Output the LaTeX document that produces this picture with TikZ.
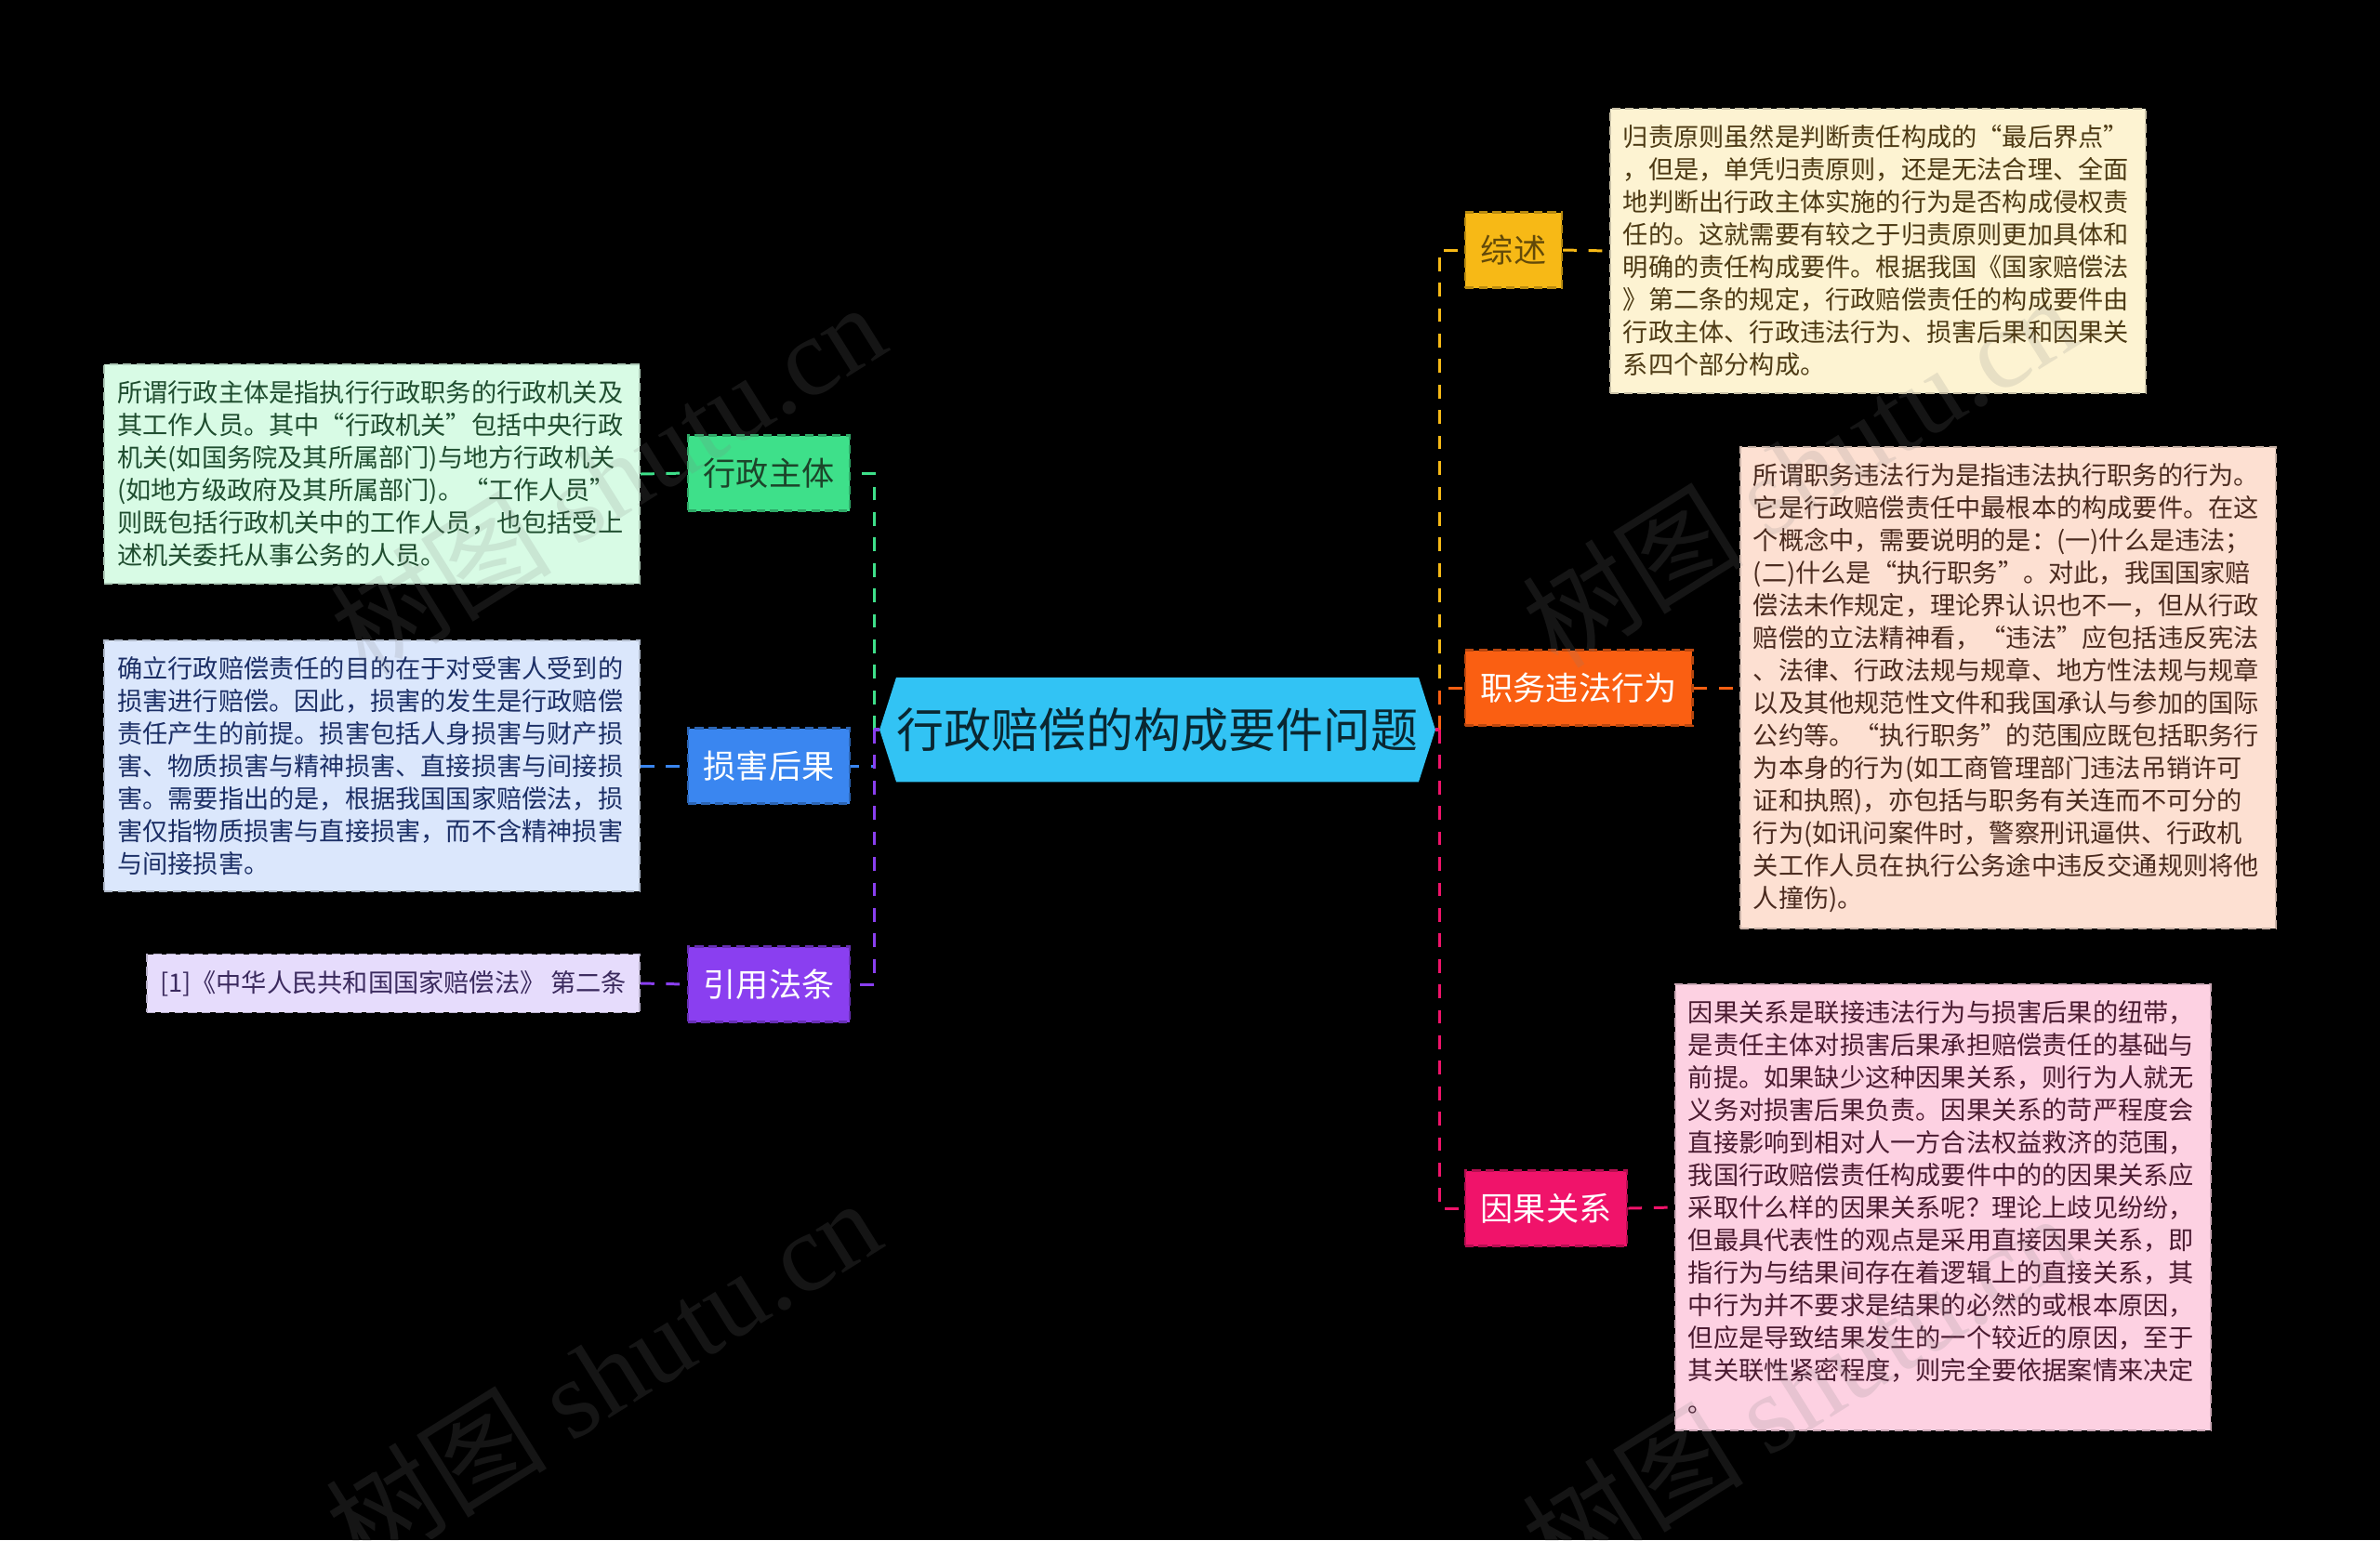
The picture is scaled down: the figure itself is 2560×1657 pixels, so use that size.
\documentclass[tikz,border=0pt]{standalone}
\usepackage{fontspec}
\setmainfont{Noto Sans CJK SC}
\newfontfamily\wmlatin{Liberation Serif}
\usetikzlibrary{backgrounds}
\definecolor{cG}{HTML}{3EE08A}
\definecolor{cB}{HTML}{3A86F0}
\definecolor{cP}{HTML}{8A3FF0}
\definecolor{cY}{HTML}{F7B916}
\definecolor{cO}{HTML}{FA5F12}
\definecolor{cK}{HTML}{F0136A}
\definecolor{cC}{HTML}{32C3F4}
\definecolor{fG}{HTML}{D8FBE5}
\definecolor{fB}{HTML}{DBE7FC}
\definecolor{fP}{HTML}{E6DCFC}
\definecolor{fY}{HTML}{FDF3D2}
\definecolor{fO}{HTML}{FDE0D2}
\definecolor{fK}{HTML}{FDD1E2}
\definecolor{tG}{HTML}{1F4D2F}
\definecolor{tB}{HTML}{1C2F66}
\definecolor{tP}{HTML}{3B2A5E}
\definecolor{tY}{HTML}{4D3A14}
\definecolor{tO}{HTML}{4A2A1E}
\definecolor{tK}{HTML}{4A1A30}
\tikzset{
  x=0.28453pt, y=-0.28453pt,
  cat/.style={minimum height=23.05pt, inner xsep=4.84pt, inner ysep=0pt,
    font=\fontsize{10}{12}\selectfont, draw=#1!75!black, fill=#1,
    dash pattern=on 2.6pt off 1.6pt, line width=0.6pt},
  leafbox/.style={align=left, inner xsep=3.98pt, inner ysep=5pt,
    font=\fontsize{7.74}{9.96}\selectfont, fill=#1, draw=#1!80!black,
    dash pattern=on 2.6pt off 1.6pt, line width=0.5pt},
  wide/.style={text width=155.9pt},
  edge/.style={draw=#1, line width=0.85pt, dash pattern=on 4.2pt off 3.6pt},
  solidedge/.style={draw=#1, line width=1.1pt},
  wm/.style={rotate=32, text=gray, opacity=0.17, font=\fontsize{34}{40}\selectfont}
}
\begin{document}
\begin{tikzpicture}
\useasboundingbox (0,0) rectangle (2560,1657);

% central node (hexagon drawn on the background layer)
\node[minimum width=149.1pt, minimum height=31.6pt, inner sep=0pt,
      text=black!80!cC, font=\fontsize{14.5}{16}\selectfont] (c) at (1245,785) {行政赔偿的构成要件问题};
\coordinate (cl) at ([xshift=-5.1pt]c.west);
\coordinate (cr) at ([xshift=5.1pt]c.east);
\begin{scope}[on background layer]
\fill[black] (0,0) rectangle (2560,1657);
\fill[cC] (c.north west) -- (c.north east) -- (cr) -- (c.south east) -- (c.south west) -- (cl) -- cycle;
\end{scope}

% category nodes
\node[cat=cG, text=tG!90!black] (xz) at (827,509) {行政主体};
\node[cat=cB, text=white] (sh) at (827,824) {损害后果};
\node[cat=cP, text=white] (yy) at (827,1059) {引用法条};
\node[cat=cY, text=black!60!cY] (zs) at (1628,269) {综述};
\node[cat=cO, text=white] (zw) at (1698,740) {职务违法行为};
\node[cat=cK, text=white] (yg) at (1663,1300) {因果关系};

% leaves
\node[leafbox=fG, wide, text=tG, anchor=east] (l1) at (689,510) {所谓行政主体是指执行行政职务的行政机关及\\其工作人员。其中“行政机关”包括中央行政\\机关(如国务院及其所属部门)与地方行政机关\\(如地方级政府及其所属部门)。“工作人员”\\则既包括行政机关中的工作人员，也包括受上\\述机关委托从事公务的人员。};
\node[leafbox=fB, wide, text=tB, anchor=east] (l2) at (689,824) {确立行政赔偿责任的目的在于对受害人受到的\\损害进行赔偿。因此，损害的发生是行政赔偿\\责任产生的前提。损害包括人身损害与财产损\\害、物质损害与精神损害、直接损害与间接损\\害。需要指出的是，根据我国国家赔偿法，损\\害仅指物质损害与直接损害，而不含精神损害\\与间接损害。};
\node[leafbox=fP, text=tP, anchor=east] (l3) at (689,1058) {[1]《中华人民共和国国家赔偿法》 第二条};
\node[leafbox=fY, wide, text=tY, anchor=west] (r1) at (1731,270) {归责原则虽然是判断责任构成的“最后界点”\\，但是，单凭归责原则，还是无法合理、全面\\地判断出行政主体实施的行为是否构成侵权责\\任的。这就需要有较之于归责原则更加具体和\\明确的责任构成要件。根据我国《国家赔偿法\\》第二条的规定，行政赔偿责任的构成要件由\\行政主体、行政违法行为、损害后果和因果关\\系四个部分构成。};
\node[leafbox=fO, wide, text=tO, anchor=west] (r2) at (1871,740) {所谓职务违法行为是指违法执行职务的行为。\\它是行政赔偿责任中最根本的构成要件。在这\\个概念中，需要说明的是：(一)什么是违法；\\(二)什么是“执行职务”。对此，我国国家赔\\偿法未作规定，理论界认识也不一，但从行政\\赔偿的立法精神看，“违法”应包括违反宪法\\、法律、行政法规与规章、地方性法规与规章\\以及其他规范性文件和我国承认与参加的国际\\公约等。“执行职务”的范围应既包括职务行\\为本身的行为(如工商管理部门违法吊销许可\\证和执照)，亦包括与职务有关连而不可分的\\行为(如讯问案件时，警察刑讯逼供、行政机\\关工作人员在执行公务途中违反交通规则将他\\人撞伤)。};
\node[leafbox=fK, wide, text=tK, anchor=west] (r3) at (1801,1299) {因果关系是联接违法行为与损害后果的纽带，\\是责任主体对损害后果承担赔偿责任的基础与\\前提。如果缺少这种因果关系，则行为人就无\\义务对损害后果负责。因果关系的苛严程度会\\直接影响到相对人一方合法权益救济的范围，\\我国行政赔偿责任构成要件中的的因果关系应\\采取什么样的因果关系呢？理论上歧见纷纷，\\但最具代表性的观点是采用直接因果关系，即\\指行为与结果间存在着逻辑上的直接关系，其\\中行为并不要求是结果的必然的或根本原因，\\但应是导致结果发生的一个较近的原因，至于\\其关联性紧密程度，则完全要依据案情来决定\\。};

% trunks
\coordinate (tl) at (940,785);
\coordinate (tr) at (1548,785);

% left edges
\draw[edge=cG] (tl) |- (xz.east);
\draw[edge=cB] (tl) |- (sh.east);
\draw[edge=cP] (tl) |- (yy.east);
\draw[solidedge=cP] (cl) -- (tl);
\draw[edge=cG] (l1.east) -- (xz.west);
\draw[edge=cB] (l2.east) -- (sh.west);
\draw[edge=cP] (l3.east) -- (yy.west);

% right edges
\draw[edge=cY] (tr) |- (zs.west);
\draw[edge=cO] (tr) |- (zw.west);
\draw[edge=cK] (tr) |- (yg.west);
\draw[solidedge=cK] (cr) -- (tr);
\draw[edge=cY] (zs.east) -- (r1.west);
\draw[edge=cO] (zw.east) -- (r2.west);
\draw[edge=cK] (yg.east) -- (r3.west);

% watermarks
\node[wm] (w1) at (653,514) {树图 {\wmlatin shutu.cn}};
\node[wm] (w2) at (648,1478) {树图 {\wmlatin shutu.cn}};
\node[wm] (w3) at (1935,506) {树图 {\wmlatin shutu.cn}};
\node[wm] (w4) at (1935,1494) {树图 {\wmlatin shutu.cn}};
\end{tikzpicture}
\end{document}
